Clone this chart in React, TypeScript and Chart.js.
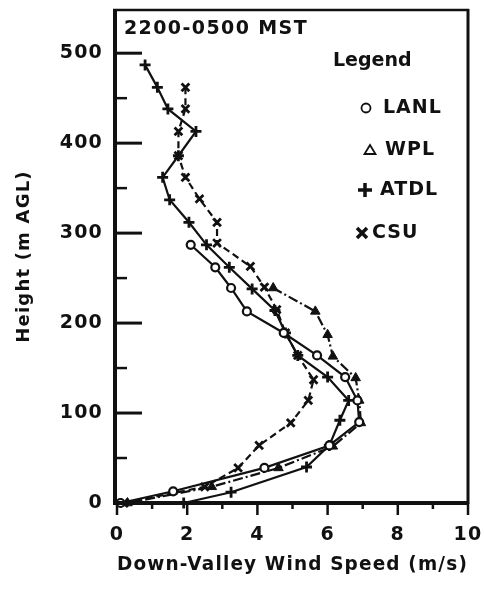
import { useEffect, useRef } from 'react';
import { Chart, registerables } from 'chart.js';

Chart.register(...registerables);

const FONT = '"DejaVu Sans", "Liberation Sans", sans-serif';

// Data (speed m/s, height m AGL)
const lanlSpeed = [0.1, 1.6, 4.2, 6.05, 6.9, 6.85, 6.5, 5.7, 4.75, 3.7, 3.25, 2.8, 2.1];
const lanlHeight = [0, 13, 39, 64, 90, 114, 140, 164, 189, 213, 239, 262, 287];

const wplSpeed = [0.3, 2.7, 4.6, 6.15, 6.95, 6.9, 6.8, 6.15, 6.0, 5.65, 4.45];
const wplHeight = [0, 18, 39, 63, 89, 114, 139, 163, 187, 213, 239];

const atdlSpeed = [1.9, 3.25, 5.4, 6.05, 6.35, 6.6, 6.0, 5.15, 4.8, 4.5, 3.85, 3.2, 2.55, 2.05, 1.5, 1.3, 1.75, 2.25, 1.45, 1.15, 0.8];
const atdlHeight = [0, 12, 40, 64, 92, 114, 140, 164, 189, 214, 238, 262, 287, 312, 337, 362, 386, 413, 438, 462, 487];

const csuSpeed = [0.2, 2.5, 3.45, 4.05, 4.95, 5.45, 5.6, 5.15, 4.8, 4.55, 4.2, 3.8, 2.85, 2.85, 2.35, 1.95, 1.75, 1.75, 1.95, 1.95];
const csuHeight = [0, 18, 39, 64, 89, 114, 137, 164, 189, 215, 240, 263, 289, 312, 338, 362, 386, 413, 438, 462];

const xTicks = [0, 2, 4, 6, 8, 10];
const yTicks = [0, 100, 200, 300, 400, 500];
const seriesNames = ['LANL', 'WPL', 'ATDL', 'CSU'];
const periodLabel = '2200-0500 MST';
const legendTitle = 'Legend';
const xTitle = 'Down-Valley Wind Speed (m/s)';
const yTitle = 'Height (m AGL)';

const pts = (xs: number[], ys: number[]) => xs.map((x, i) => ({ x, y: ys[i] }));

const INK = '#111';

const framePlugin = {
  id: 'frameAndLegend',
  beforeDraw(chart: any) {
    const ctx = chart.ctx as any;
    ctx.letterSpacing = '1.2px';
  },
  afterDraw(chart: any) {
    const ctx = chart.ctx as any;
    const { left, right, top, bottom } = chart.chartArea;
    const xs = chart.scales.x;
    const ys = chart.scales.y;
    ctx.save();
    ctx.strokeStyle = INK;
    ctx.lineCap = 'butt';
    // frame
    ctx.lineWidth = 4;
    ctx.beginPath();
    ctx.moveTo(left - 2, top - 1);
    ctx.lineTo(left - 2, bottom + 2);
    ctx.stroke();
    ctx.beginPath();
    ctx.moveTo(left - 4, bottom);
    ctx.lineTo(right + 1, bottom);
    ctx.stroke();
    ctx.lineWidth = 3;
    ctx.beginPath();
    ctx.moveTo(right, top - 1);
    ctx.lineTo(right, bottom + 1);
    ctx.stroke();
    ctx.lineWidth = 2.5;
    ctx.beginPath();
    ctx.moveTo(left - 4, top);
    ctx.lineTo(right + 1, top);
    ctx.stroke();
    // y ticks (inward)
    for (let v = 0; v <= 500; v += 50) {
      const py = ys.getPixelForValue(v);
      const major = v % 100 === 0;
      ctx.lineWidth = major ? 3 : 2.5;
      ctx.beginPath();
      ctx.moveTo(left - 2, py);
      ctx.lineTo(left + (major ? 25 : 10), py);
      ctx.stroke();
    }
    // x ticks (outward)
    for (let v = 0; v <= 10; v += 1) {
      const px = xs.getPixelForValue(v);
      const major = v % 2 === 0;
      ctx.lineWidth = 2.5;
      ctx.beginPath();
      ctx.moveTo(px, bottom);
      ctx.lineTo(px, bottom + (major ? 12 : 6));
      ctx.stroke();
    }
    // period label
    ctx.fillStyle = INK;
    ctx.letterSpacing = '1.4px';
    ctx.font = `bold 19px ${FONT}`;
    ctx.textAlign = 'left';
    ctx.textBaseline = 'middle';
    ctx.fillText(periodLabel, 124, 29);
    // legend
    ctx.letterSpacing = '0px';
    ctx.fillText(legendTitle, 333, 61);
    ctx.letterSpacing = '1px';
    const rows = [108, 150, 190, 233];
    const textX = [383, 385, 380, 372];
    const symX = [366, 370, 365, 362];
    seriesNames.forEach((name, i) => {
      const cy = rows[i];
      const sx = symX[i];
      ctx.fillText(name, textX[i], cy);
      ctx.beginPath();
      if (i === 0) {
        ctx.lineWidth = 1.8;
        ctx.arc(sx, cy, 4.5, 0, Math.PI * 2);
        ctx.stroke();
      } else if (i === 1) {
        ctx.lineWidth = 1.8;
        ctx.moveTo(sx, cy - 5);
        ctx.lineTo(sx + 5.5, cy + 4);
        ctx.lineTo(sx - 5.5, cy + 4);
        ctx.closePath();
        ctx.stroke();
      } else if (i === 2) {
        ctx.lineWidth = 3.5;
        ctx.moveTo(sx - 7, cy);
        ctx.lineTo(sx + 7, cy);
        ctx.moveTo(sx, cy - 7);
        ctx.lineTo(sx, cy + 7);
        ctx.stroke();
      } else {
        ctx.lineWidth = 3.5;
        ctx.moveTo(sx - 5, cy - 5);
        ctx.lineTo(sx + 5, cy + 5);
        ctx.moveTo(sx + 5, cy - 5);
        ctx.lineTo(sx - 5, cy + 5);
        ctx.stroke();
      }
    });
    ctx.restore();
    ctx.letterSpacing = '0px';
  },
};

export default function App() {
  const ref = useRef<HTMLCanvasElement>(null);
  useEffect(() => {
    const base = {
      borderColor: INK,
      borderWidth: 2.2,
      pointBorderColor: INK,
      tension: 0,
      clip: false as any,
      showLine: true,
      fill: false,
    };
    const chart = new Chart(ref.current!, {
      type: 'line',
      data: {
        datasets: [
          {
            ...base,
            label: seriesNames[0],
            data: pts(lanlSpeed, lanlHeight),
            pointStyle: 'circle',
            pointRadius: 4,
            pointBorderWidth: 2.2,
            pointBackgroundColor: '#fff',
          },
          {
            ...base,
            label: seriesNames[1],
            data: pts(wplSpeed, wplHeight),
            pointStyle: 'triangle',
            pointRadius: 5.5,
            pointBorderWidth: 1,
            pointBackgroundColor: INK,
            borderDash: [10, 3, 2, 3],
          },
          {
            ...base,
            label: seriesNames[2],
            data: pts(atdlSpeed, atdlHeight),
            pointStyle: 'cross',
            pointRadius: 5.5,
            pointBorderWidth: 2.8,
            pointBackgroundColor: INK,
          },
          {
            ...base,
            label: seriesNames[3],
            data: pts(csuSpeed, csuHeight),
            pointStyle: 'crossRot',
            pointRadius: 5.5,
            pointBorderWidth: 2.8,
            pointBackgroundColor: INK,
            borderDash: [7, 4],
          },
        ] as any,
      },
      options: {
        animation: false,
        responsive: false,
        devicePixelRatio: 1,
        layout: { padding: { left: 0, right: 16, top: 10, bottom: 0 } },
        plugins: { legend: { display: false }, tooltip: { enabled: false } },
        scales: {
          x: {
            type: 'linear',
            min: 0,
            max: 10,
            grid: { display: false, drawTicks: false },
            border: { display: false },
            afterBuildTicks: (s: any) => {
              s.ticks = xTicks.map((value) => ({ value }));
            },
            afterFit: (s: any) => {
              s.height = 90;
              s.paddingLeft = 0;
              s.paddingRight = 0;
            },
            ticks: {
              padding: 21,
              color: INK,
              font: { family: FONT, size: 19, weight: 'bold' },
              maxRotation: 0,
              autoSkip: false,
            },
            title: {
              display: true,
              text: xTitle,
              color: INK,
              font: { family: FONT, size: 19, weight: 'bold' },
              padding: { top: 0, bottom: 17 },
            },
          },
          y: {
            type: 'linear',
            min: 0,
            max: 548,
            grid: { display: false, drawTicks: false },
            border: { display: false },
            afterBuildTicks: (s: any) => {
              s.ticks = yTicks.map((value) => ({ value }));
            },
            afterFit: (s: any) => {
              s.width = 117;
              s.paddingTop = 0;
              s.paddingBottom = 0;
            },
            ticks: {
              padding: 14,
              color: INK,
              font: { family: FONT, size: 19, weight: 'bold' },
              autoSkip: false,
            },
            title: {
              display: true,
              text: yTitle,
              color: INK,
              font: { family: FONT, size: 18, weight: 'bold' },
              padding: { top: 14, bottom: 0 },
            },
          },
        },
      } as any,
      plugins: [framePlugin],
    });
    return () => chart.destroy();
  }, []);
  return (
    <div style={{ position: 'fixed', left: 0, top: 0, width: 484, height: 593, background: '#fff' }}>
      <canvas ref={ref} width={484} height={593} style={{ display: 'block', width: 484, height: 593 }} />
    </div>
  );
}
